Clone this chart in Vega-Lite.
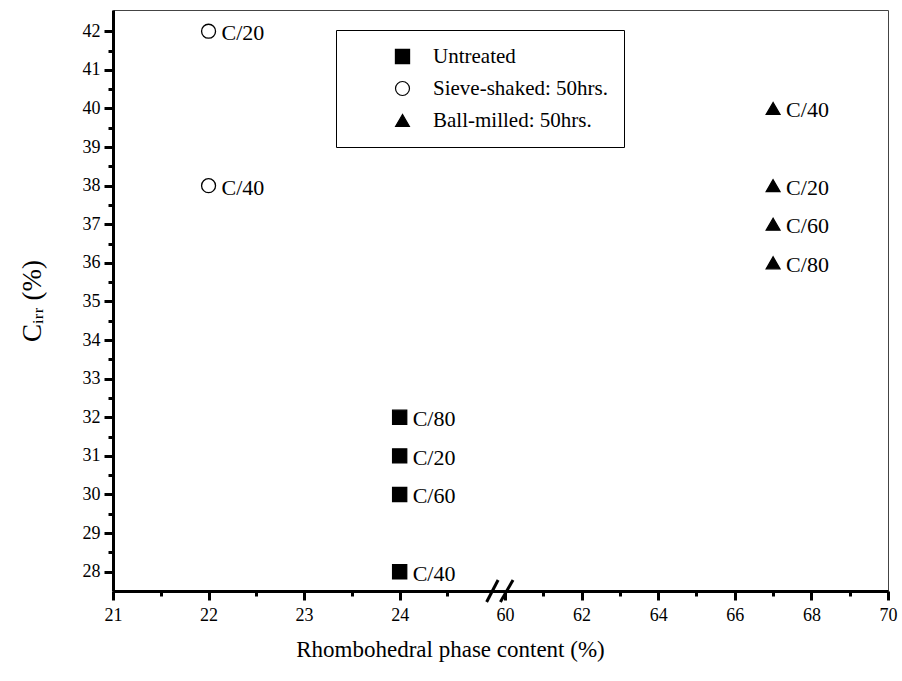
{
  "$schema": "https://vega.github.io/schema/vega-lite/v6.json",
  "width": 775,
  "height": 581,
  "autosize": {"type": "none"},
  "padding": {"left": 113, "top": 10, "right": 14, "bottom": 90},
  "background": "white",
  "config": {
    "view": {"stroke": "#444", "strokeWidth": 1},
    "font": "Liberation Serif",
    "axis": {"labelFont": "Liberation Serif", "titleFont": "Liberation Serif"},
    "legend": {
      "title": null, "orient": "none", "legendX": 223, "legendY": 20,
      "strokeColor": "black", "padding": 16,
      "symbolOffset": 40, "labelOffset": 20, "rowPadding": 10,
      "symbolStrokeColor": "black", "symbolStrokeWidth": 1.2,
      "labelFont": "Liberation Serif", "labelFontSize": 21, "labelColor": "black", "labelLimit": 400,
      "fillColor": "white"
    }
  },
  "data": {
    "values": [
      {"rp": 24, "cirr": 32, "group": "Untreated", "label": "C/80"},
      {"rp": 24, "cirr": 31, "group": "Untreated", "label": "C/20"},
      {"rp": 24, "cirr": 30, "group": "Untreated", "label": "C/60"},
      {"rp": 24, "cirr": 28, "group": "Untreated", "label": "C/40"},
      {"rp": 22, "cirr": 42, "group": "Sieve-shaked: 50hrs.", "label": "C/20"},
      {"rp": 22, "cirr": 38, "group": "Sieve-shaked: 50hrs.", "label": "C/40"},
      {"rp": 67, "cirr": 40, "group": "Ball-milled: 50hrs.", "label": "C/40"},
      {"rp": 67, "cirr": 38, "group": "Ball-milled: 50hrs.", "label": "C/20"},
      {"rp": 67, "cirr": 37, "group": "Ball-milled: 50hrs.", "label": "C/60"},
      {"rp": 67, "cirr": 36, "group": "Ball-milled: 50hrs.", "label": "C/80"}
    ]
  },
  "resolve": {"axis": {"x": "independent", "y": "independent"}},
  "layer": [
    {
      "mark": {"type": "point", "filled": false, "opacity": 1, "strokeWidth": 1.3},
      "encoding": {
        "x": {
          "field": "rp", "type": "quantitative",
          "scale": {"domain": [21, 25.05, 59.87, 70], "range": [0, 387, 387, 775], "nice": false, "zero": false},
          "axis": {
            "orient": "bottom",
            "values": [21, 22, 23, 24, 60, 62, 64, 66, 68, 70],
            "title": "Rhombohedral phase content (%)",
            "titleFont": "Liberation Serif", "titleFontSize": 23, "titleFontWeight": "normal", "titleColor": "black",
            "titlePadding": 14, "titleX": 337, "titleAnchor": "middle",
            "labelFont": "Liberation Serif", "labelFontSize": 18, "labelColor": "black", "labelPadding": 6,
            "domainColor": "black", "domainWidth": 3,
            "tickColor": "black", "tickWidth": 3, "tickSize": 9,
            "grid": false, "labelFlush": false, "labelOverlap": false
          }
        },
        "y": {
          "field": "cirr", "type": "quantitative",
          "scale": {"domain": [27.5, 42.55], "nice": false, "zero": false},
          "axis": {
            "orient": "left",
            "values": [28, 29, 30, 31, 32, 33, 34, 35, 36, 37, 38, 39, 40, 41, 42],
            "title": "Cᵢᵣᵣ (%)",
            "titleFont": "Liberation Serif", "titleFontSize": 27, "titleFontWeight": "normal", "titleColor": "black",
            "titlePadding": 36,
            "labelFont": "Liberation Serif", "labelFontSize": 18, "labelColor": "black", "labelPadding": 4,
            "domainColor": "black", "domainWidth": 3,
            "tickColor": "black", "tickWidth": 3, "tickSize": 9,
            "grid": false, "labelFlush": false, "labelOverlap": false
          }
        },
        "shape": {
          "field": "group", "type": "nominal",
          "scale": {"domain": ["Untreated", "Sieve-shaked: 50hrs.", "Ball-milled: 50hrs."], "range": ["square", "circle", "triangle-up"]}
        },
        "fill": {
          "field": "group", "type": "nominal",
          "scale": {"domain": ["Untreated", "Sieve-shaked: 50hrs.", "Ball-milled: 50hrs."], "range": ["black", "white", "black"]}
        },
        "stroke": {
          "field": "group", "type": "nominal",
          "scale": {"domain": ["Untreated", "Sieve-shaked: 50hrs.", "Ball-milled: 50hrs."], "range": ["black", "black", "black"]}
        },
        "size": {
          "field": "group", "type": "nominal",
          "scale": {"domain": ["Untreated", "Sieve-shaked: 50hrs.", "Ball-milled: 50hrs."], "range": [200, 190, 270]}
        }
      }
    },
    {
      "mark": {"type": "text", "align": "left", "baseline": "middle", "dx": 13, "dy": 2, "font": "Liberation Serif", "fontSize": 22, "color": "black"},
      "encoding": {
        "x": {"field": "rp", "type": "quantitative", "axis": {"orient": "bottom", "values": [21.5, 22.5, 23.5, 24.5, 61, 63, 65, 67, 69], "labels": false, "domain": false, "title": null, "grid": false, "tickColor": "black", "tickWidth": 3, "tickSize": 5}},
        "y": {"field": "cirr", "type": "quantitative", "axis": {"orient": "left", "values": [28.5, 29.5, 30.5, 31.5, 32.5, 33.5, 34.5, 35.5, 36.5, 37.5, 38.5, 39.5, 40.5, 41.5], "labels": false, "domain": false, "title": null, "grid": false, "tickColor": "black", "tickWidth": 3, "tickSize": 5}},
        "text": {"field": "label"}
      }
    },
    {
      "data": {"values": [
        {"rp": 24.91, "rp2": 25.03, "cirr": 27.215, "cirr2": 27.785},
        {"rp": 59.88, "rp2": 60.21, "cirr": 27.215, "cirr2": 27.785}
      ]},
      "mark": {"type": "rule", "color": "black", "strokeWidth": 3},
      "encoding": {
        "x": {"field": "rp", "type": "quantitative", "axis": null},
        "x2": {"field": "rp2"},
        "y": {"field": "cirr", "type": "quantitative", "axis": null},
        "y2": {"field": "cirr2"}
      }
    }
  ]
}
